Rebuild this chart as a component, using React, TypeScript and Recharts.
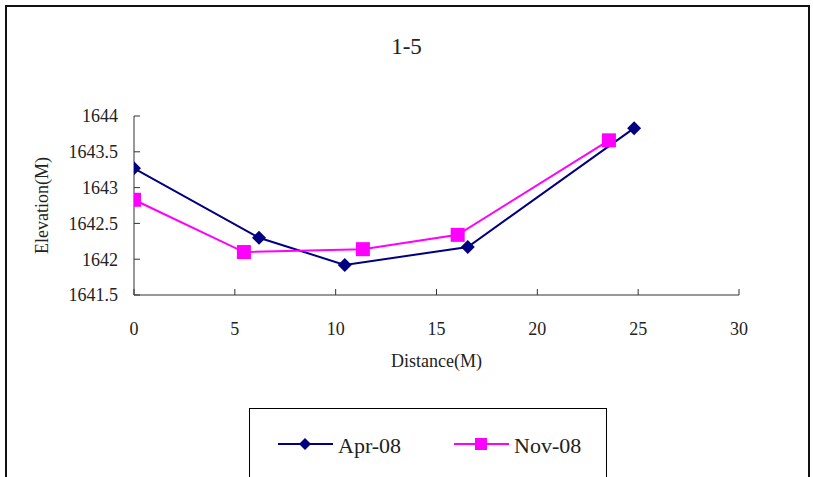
import React from 'react'
import { LineChart, Line, XAxis, YAxis, Legend, Label } from 'recharts'

const CHART_TITLE = '1-5'
const X_LABEL = 'Distance(M)'
const Y_LABEL = 'Elevation(M)'

// survey points
const aprDistance = [0, 6.2, 10.45, 16.55, 24.8]
const aprElevation = [1643.27, 1642.3, 1641.92, 1642.17, 1643.83]
const novDistance = [0, 5.45, 11.35, 16.05, 23.55]
const novElevation = [1642.83, 1642.1, 1642.14, 1642.34, 1643.66]

const xTicks = [0, 5, 10, 15, 20, 25, 30]
const yTicks = [1641.5, 1642, 1642.5, 1643, 1643.5, 1644]

const FONT = '"Liberation Serif", "Times New Roman", serif'
const NAVY = '#000080'
const MAGENTA = '#FF00FF'

const toPoints = (xs: number[], ys: number[]) => xs.map((x, i) => ({ distance: x, elevation: ys[i] }))
const aprData = toPoints(aprDistance, aprElevation)
const novData = toPoints(novDistance, novElevation)

const MARKERS: Record<string, 'diamond' | 'square'> = { 'Apr-08': 'diamond', 'Nov-08': 'square' }

function marker(shape: 'diamond' | 'square', cx: number, cy: number, r: number, fill: string, key?: string) {
  if (shape === 'diamond') {
    return <path key={key} d={`M${cx},${cy - r}L${cx + r},${cy}L${cx},${cy + r}L${cx - r},${cy}Z`} fill={fill} />
  }
  return <rect key={key} x={cx - r} y={cy - r} width={r * 2} height={r * 2} fill={fill} />
}

const renderDiamond = (props: any) => marker('diamond', props.cx, props.cy, 7, NAVY, `d-${props.index}`)
const renderSquare = (props: any) => marker('square', props.cx, props.cy, 7, MAGENTA, `s-${props.index}`)

const renderLegend = (props: any) => {
  const payload = props.payload || []
  return (
    <div style={{ border: '1.5px solid #000', boxSizing: 'border-box', width: 358, height: 100, background: '#fff' }}>
      <svg width={355} height={90} style={{ display: 'block' }}>
        {payload.map((entry: any, i: number) => {
          const x0 = 28 + i * 176
          const shape = MARKERS[entry.value] || 'diamond'
          return (
            <g key={entry.value}>
              <line x1={x0} x2={x0 + 55} y1={35} y2={35} stroke={entry.color} strokeWidth={2} />
              {marker(shape, x0 + 27, 35, 6, entry.color)}
              <text x={x0 + 60} y={44} fontSize={22} fontFamily={FONT} fill="#222">{entry.value}</text>
            </g>
          )
        })}
      </svg>
    </div>
  )
}

export default function App() {
  return (
    <div style={{ position: 'absolute', left: 0, top: 0, width: 813, height: 477, overflow: 'hidden', background: '#fff', fontFamily: FONT }}>
      <div style={{ position: 'absolute', left: 5, top: 5, width: 801, height: 500, borderLeft: '2px solid #111', borderTop: '2px solid #111', borderRight: '2px solid #111' }} />
      <div style={{ position: 'absolute', left: 0, width: 813, top: 33, textAlign: 'center', fontSize: 23, color: '#222', lineHeight: '28px' }}>
        {CHART_TITLE}
      </div>
      <div style={{ position: 'absolute', left: 0, top: 0 }}>
        <LineChart width={813} height={477} margin={{ top: 116, right: 74, bottom: 102, left: 34 }}>
          <XAxis
            dataKey="distance"
            type="number"
            domain={[0, 30]}
            ticks={xTicks}
            allowDataOverflow
            height={80}
            stroke="#333"
            tickSize={-6}
            tickMargin={33}
            tick={{ fontSize: 18, fontFamily: FONT, fill: '#222' }}
          >
            <Label value={X_LABEL} position="insideBottom" offset={8} style={{ fontSize: 18, fontFamily: FONT, fill: '#222' }} />
          </XAxis>
          <YAxis
            type="number"
            domain={[1641.5, 1644]}
            ticks={yTicks}
            allowDataOverflow
            width={100}
            stroke="#333"
            tickSize={-6}
            tickMargin={22}
            tick={{ fontSize: 18, fontFamily: FONT, fill: '#222' }}
          >
            <Label value={Y_LABEL} angle={-90} position="center" dx={-42} style={{ fontSize: 18, fontFamily: FONT, fill: '#222', textAnchor: 'middle' }} />
          </YAxis>
          <Legend
            layout="horizontal"
            verticalAlign="middle"
            align="center"
            wrapperStyle={{ left: 249, top: 408, width: 358 }}
            content={renderLegend}
          />
          <Line
            data={aprData}
            dataKey="elevation"
            name="Apr-08"
            type="linear"
            stroke={NAVY}
            strokeWidth={2}
            dot={renderDiamond}
            activeDot={false}
            isAnimationActive={false}
          />
          <Line
            data={novData}
            dataKey="elevation"
            name="Nov-08"
            type="linear"
            stroke={MAGENTA}
            strokeWidth={2}
            dot={renderSquare}
            activeDot={false}
            isAnimationActive={false}
          />
        </LineChart>
      </div>
    </div>
  )
}
